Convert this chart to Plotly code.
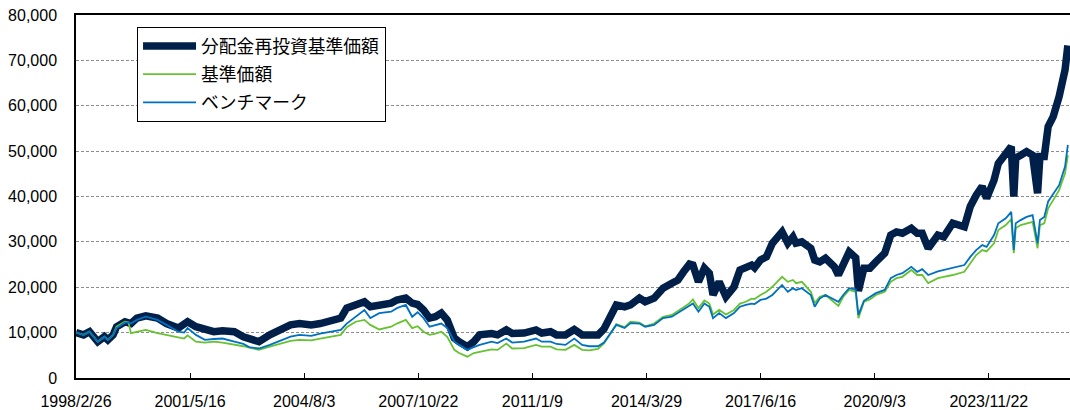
import plotly.graph_objects as go

dates = [
    "1998-02-26", "1998-05-15", "1998-07-15", "1998-10-08", "1998-12-15",
    "1999-01-20", "1999-03-15", "1999-04-20", "1999-07-15", "1999-08-20",
    "1999-09-15", "1999-11-15", "2000-02-15", "2000-06-15", "2000-09-15",
    "2001-01-15", "2001-03-15", "2001-04-20", "2001-07-15", "2001-10-15",
    "2002-01-15", "2002-04-15", "2002-08-15", "2002-11-15", "2003-01-15",
    "2003-04-25", "2003-08-15", "2003-12-15", "2004-03-15", "2004-06-15",
    "2004-10-15", "2005-01-15", "2005-04-15", "2005-08-15", "2005-10-15",
    "2006-01-15", "2006-04-15", "2006-06-15", "2006-09-15", "2007-01-15",
    "2007-03-15", "2007-06-15", "2007-08-20", "2007-10-15", "2007-12-15",
    "2008-02-15", "2008-04-15", "2008-06-15", "2008-08-15", "2008-10-27",
    "2008-12-15", "2009-03-10", "2009-05-15", "2009-07-15", "2009-11-15",
    "2010-01-15", "2010-04-15", "2010-06-15", "2010-10-15", "2011-02-15",
    "2011-04-15", "2011-07-15", "2011-09-15", "2011-12-15", "2012-03-15",
    "2012-06-04", "2012-08-15", "2012-11-15", "2013-01-15", "2013-03-15",
    "2013-05-22", "2013-08-15", "2013-10-15", "2014-01-15", "2014-03-15",
    "2014-06-15", "2014-09-15", "2014-12-15", "2015-02-15", "2015-04-15",
    "2015-06-15", "2015-07-20", "2015-09-15", "2015-11-15", "2016-01-05",
    "2016-02-12", "2016-04-15", "2016-06-24", "2016-09-15", "2016-11-15",
    "2017-01-15", "2017-03-15", "2017-04-15", "2017-06-15", "2017-08-15",
    "2017-10-15", "2018-01-23", "2018-03-23", "2018-05-15", "2018-06-15",
    "2018-08-15", "2018-11-15", "2018-12-25", "2019-02-15", "2019-04-15",
    "2019-07-15", "2019-08-26", "2019-10-15", "2019-12-15", "2020-02-20",
    "2020-03-19", "2020-05-15", "2020-07-15", "2020-09-15", "2020-12-15",
    "2021-02-15", "2021-04-15", "2021-06-15", "2021-09-15", "2021-11-15",
    "2022-01-05", "2022-03-08", "2022-06-15", "2022-08-15", "2022-11-15",
    "2023-03-15", "2023-05-15", "2023-07-15", "2023-09-15", "2023-10-30",
    "2024-01-15", "2024-02-28", "2024-05-15", "2024-07-10", "2024-08-05",
    "2024-08-25", "2024-10-15", "2024-12-15", "2025-02-15", "2025-04-07",
    "2025-05-01", "2025-06-15", "2025-07-25", "2025-09-15", "2025-11-15",
    "2026-01-15", "2026-02-13",
]

reinvested_nav = [
    10000, 9500, 10200, 8000, 9100,
    8400, 9500, 11300, 12400, 12300,
    12000, 13200, 13700, 13200, 12000,
    11000, 11700, 12400, 11300, 10600,
    10200, 10400, 10200, 9100, 8800,
    8000, 9500, 10600, 11700, 12000,
    11700, 12000, 12400, 13200, 15400,
    16100, 16800, 15700, 16100, 16500,
    17200, 17600, 16500, 16200, 15000,
    13200, 13500, 14300, 12800, 8800,
    8000, 6900, 8000, 9500, 9800,
    9500, 10600, 9800, 9900, 10600,
    9900, 10200, 9500, 9500, 10700,
    9500, 9500, 9500, 10800, 13300,
    16100, 15700, 16100, 17600, 16800,
    17600, 19800, 20900, 21600, 23400,
    25100, 24900, 21200, 24200, 23100,
    18300, 21200, 17900, 20100, 23800,
    24200, 24900, 24300, 26000, 26700,
    29700, 32200, 29700, 31100, 29700,
    30000, 28600, 26000, 25600, 26400,
    24500, 22700, 25300, 27800, 26500,
    19200, 24200, 24200, 25600, 27500,
    31500, 32200, 31900, 33000, 31900,
    31900, 28600, 31500, 31100, 34100,
    33300, 37800, 40300, 42200, 39600,
    43600, 47300, 49100, 51000, 40000,
    48500, 49100, 49900, 49100, 40700,
    48800, 48800, 55400, 57600, 62000,
    67900, 73300,
]

nav = [
    10000, 9500, 10200, 8000, 9100,
    8400, 9500, 11300, 12400, 12300,
    9900, 10200, 10600, 9900, 9500,
    9000, 8700, 9400, 8000, 7800,
    8000, 7800, 7400, 7000, 6700,
    6200, 6900, 7600, 8200, 8400,
    8300, 8700, 9100, 9500, 11200,
    12400, 12800, 11700, 10700, 11300,
    12000, 12800, 11000, 11400, 10200,
    9500, 9800, 10200, 9100, 6200,
    5500, 4700, 5500, 5800, 6300,
    6200, 7600, 6500, 6600, 7300,
    6900, 6900, 6300, 6200, 7300,
    6200, 6100, 6400, 7600, 9500,
    11900, 11200, 12400, 12200, 11400,
    12000, 13500, 13900, 14700, 15600,
    16500, 17300, 15400, 17100, 16400,
    14000, 15000, 14000, 15000, 16400,
    16800, 17500, 17400, 18300, 19000,
    20100, 22300, 21200, 21600, 20900,
    21200, 19000, 16500, 17900, 18300,
    16800, 15900, 17900, 19400, 19000,
    13200, 16800, 17300, 18300, 19000,
    21200, 22000, 22300, 23800, 22700,
    22700, 20900, 22000, 22300, 22700,
    23400, 25300, 27100, 28200, 27900,
    29700, 32600, 33700, 35000, 27500,
    33000, 33700, 34100, 34400, 28600,
    33700, 34100, 37400, 39200, 41400,
    45100, 49100,
]

benchmark = [
    10000, 9500, 10200, 8000, 9100,
    8400, 9500, 11000, 12200, 12200,
    12000, 12800, 13500, 12800, 11700,
    10200, 10000, 11000, 9500, 8400,
    8600, 8700, 8000, 7500, 6800,
    6500, 7300, 8400, 9100, 9500,
    9300, 9800, 10200, 10600, 12000,
    13500, 15000, 13200, 14300, 14600,
    15400, 16100, 13500, 14500, 13200,
    11300, 11700, 12000, 11000, 8000,
    7300, 6200, 6800, 7300, 8000,
    7700, 8700, 7800, 8000, 8700,
    8000, 8000, 7500, 7300, 8700,
    7300, 7000, 7000, 7800, 9500,
    11700, 11000, 12100, 12000, 11300,
    11700, 13200, 13500, 14300, 15000,
    15800, 16400, 14600, 16400, 15700,
    13200, 14300, 13200, 14300, 15700,
    16100, 16400, 16300, 17200, 17500,
    18300, 20500, 19000, 19800, 19400,
    19800, 18300, 15700, 17500, 18300,
    17200, 16800, 18300, 19800, 19500,
    13900, 17000, 17800, 18700, 19400,
    22000, 22700, 23100, 24500, 23400,
    24000, 22700, 23500, 23800, 24200,
    24900, 26700, 28200, 29300, 28900,
    31500, 34100, 35200, 36600, 28200,
    34100, 34800, 35500, 35900, 29700,
    34800, 35500, 38900, 40700, 42500,
    46600, 51400,
]

series_names = ["分配金再投資基準価額", "基準価額", "ベンチマーク"]
tick_dates = ["1998-02-26", "2001-05-16", "2004-08-03", "2007-10-22", "2011-01-09",
              "2014-03-29", "2017-06-16", "2020-09-03", "2023-11-22"]
tick_labels = ["1998/2/26", "2001/5/16", "2004/8/3", "2007/10/22", "2011/1/9",
               "2014/3/29", "2017/6/16", "2020/9/3", "2023/11/22"]
y_ticks = [0, 10000, 20000, 30000, 40000, 50000, 60000, 70000, 80000]

fig = go.Figure()
fig.add_trace(go.Scatter(x=dates, y=reinvested_nav, name=series_names[0], mode="lines",
                         line=dict(color="#00204A", width=7.5), legendgroup="a"))
fig.add_trace(go.Scatter(x=dates, y=nav, name=series_names[1], mode="lines",
                         line=dict(color="#66C232", width=1.8), legendgroup="b"))
fig.add_trace(go.Scatter(x=dates, y=benchmark, name=series_names[2], mode="lines",
                         line=dict(color="#0070C0", width=1.8), legendgroup="c"))

fig.update_layout(
    width=1070, height=410,
    margin=dict(l=76, r=0, t=15, b=32, autoexpand=False),
    paper_bgcolor="white", plot_bgcolor="white",
    font=dict(family="Liberation Sans, Arial, sans-serif", color="#000000", size=16),
    showlegend=True,
    legend=dict(x=0.0614, y=0.967, xanchor="left", yanchor="top",
                bordercolor="#000000", borderwidth=1, bgcolor="white",
                font=dict(family="Noto Sans CJK JP", size=17.8, color="#000000"),
                itemwidth=53,
                traceorder="grouped", tracegroupgap=2),
    xaxis=dict(type="date", range=["1998-02-26", "2026-03-07"],
               tickvals=tick_dates, ticktext=tick_labels, automargin=False,
               showgrid=False, showline=True, linecolor="#000000", linewidth=1.5,
               mirror=True, ticks="inside", ticklen=5, tickcolor="#000000",
               ticklabelstandoff=8, zeroline=False),
    yaxis=dict(range=[0, 80000], tickvals=y_ticks, tickformat=",d", automargin=False,
               showgrid=True, gridcolor="#8C8C8C", griddash="3px,2px", gridwidth=1,
               showline=True, linecolor="#000000", linewidth=1.5,
               ticks="", ticklabelstandoff=14, zeroline=False),
)

fig.write_html("out.html", config={"displayModeBar": False},
               post_script="document.body.style.margin='0px';")
